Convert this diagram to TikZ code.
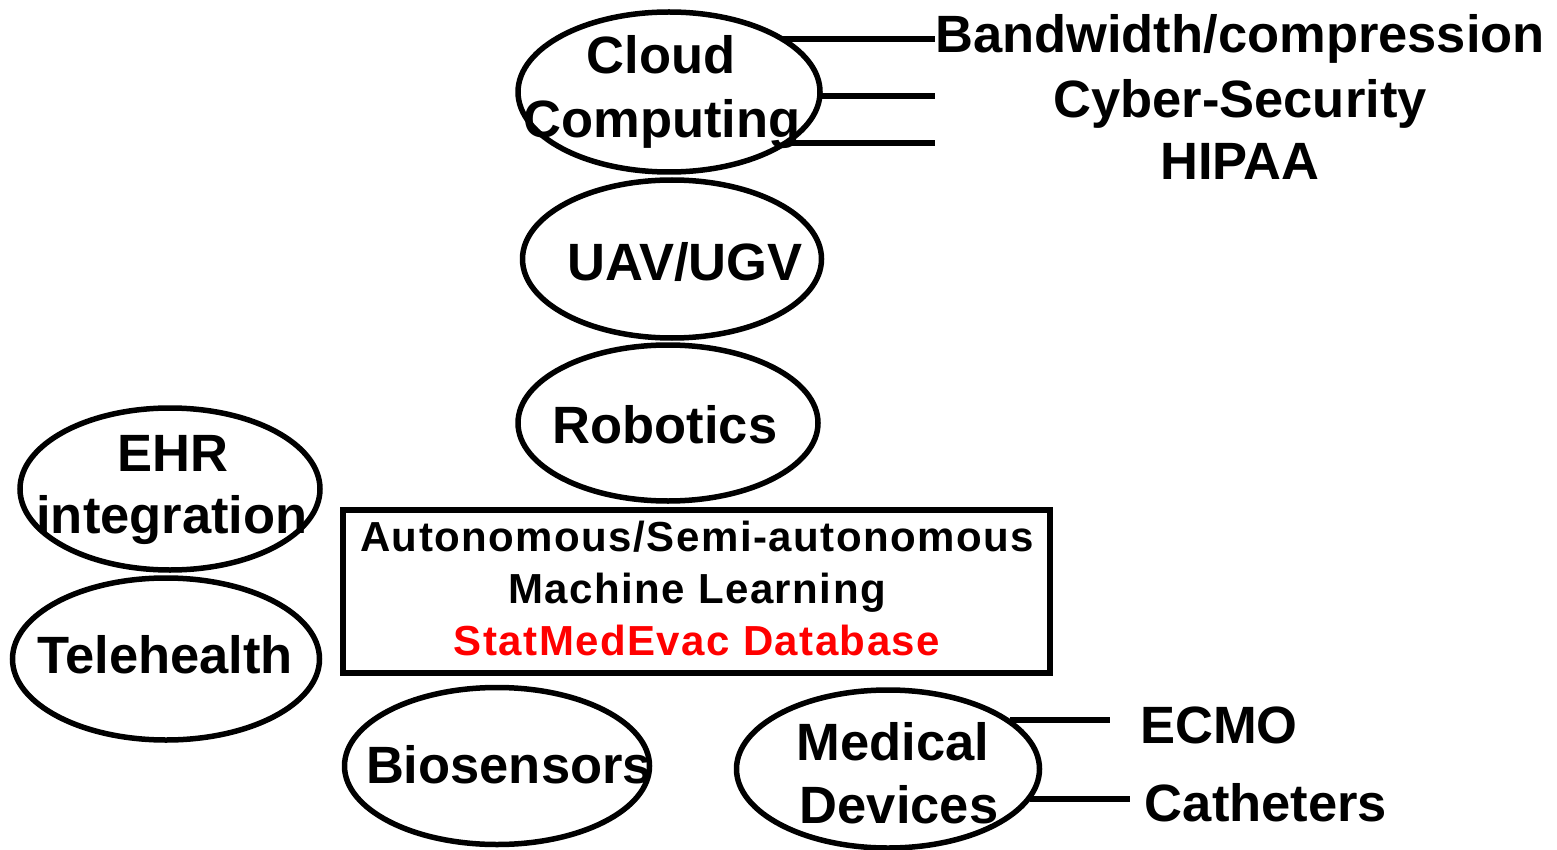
\documentclass[tikz,border=0pt]{standalone}
\usepackage{fontspec}
\setmainfont{Liberation Sans}
\usetikzlibrary{shapes.geometric}
\begin{document}
\begin{tikzpicture}[x=1pt,y=-1pt,
  oval/.style={draw,ellipse,line width=5.5pt,inner sep=0pt,minimum width=#1},
  lbl/.style={anchor=base,inner sep=0pt,font=\fontsize{52.5}{60}\selectfont\bfseries},
  boxlbl/.style={anchor=base,inner sep=0pt,font=\fontsize{42}{50}\selectfont\bfseries\addfontfeature{LetterSpace=3.5}},
  conn/.style={line width=6pt}]
\useasboundingbox (0,0) rectangle (1557,850);
% ellipses
\node[oval=302pt,minimum height=160pt] (cc) at (669,92) {};
\node[oval=299pt,minimum height=158pt] (uav) at (672,259) {};
\node[oval=300pt,minimum height=156pt] (rob) at (668,423) {};
\node[oval=300pt,minimum height=162pt] (ehr) at (170,489) {};
\node[oval=307pt,minimum height=162pt] (tel) at (166,659) {};
\node[oval=305pt,minimum height=157pt] (bio) at (497,766) {};
\node[oval=303pt,minimum height=158pt] (med) at (888,769) {};
% box
\node[draw,line width=5.5pt,minimum width=707pt,minimum height=163pt,inner sep=0pt] (box) at (696.5,591.5) {};
% labels
\node[lbl] (t1) at (661,74) {Cloud};
\node[lbl] (t2) at (662,138) {Computing};
\node[lbl] (t3) at (685,280) {UAV/UGV};
\node[lbl] (t4) at (665,443) {Robotics};
\node[lbl] (t5) at (173,471) {EHR};
\node[lbl] (t6) at (172,533) {integration};
\node[lbl] (t7) at (165,673) {Telehealth};
\node[lbl] (t8) at (509,783) {Biosensors};
\node[lbl] (t9) at (893,760) {Medical};
\node[lbl] (t10) at (899,823) {Devices};
\node[boxlbl] (b1) at (697,551) {Autonomous/Semi-autonomous};
\node[boxlbl] (b2) at (697,603) {Machine Learning};
\node[boxlbl,text=red] (b3) at (697,655) {StatMedEvac Database};
\node[lbl] (r1) at (1240,53) {Bandwidth/compression};
\node[lbl] (r2) at (1240,118) {Cyber-Security};
\node[lbl] (r3) at (1240,180) {HIPAA};
\node[lbl] (r4) at (1219,743) {ECMO};
\node[lbl] (r5) at (1266,821) {Catheters};
% connector ends
\coordinate (c1s) at (782,39);
\coordinate (c1e) at (935,39);
\coordinate (c2s) at (820,96);
\coordinate (c2e) at (935,96);
\coordinate (c3s) at (788,143);
\coordinate (c3e) at (935,143);
\coordinate (m1s) at (1010,720);
\coordinate (m1e) at (1110,720);
\coordinate (m2s) at (1030,799);
\coordinate (m2e) at (1130,799);
\draw[conn] (c1s) -- (c1e);
\draw[conn] (c2s) -- (c2e);
\draw[conn] (c3s) -- (c3e);
\draw[conn] (m1s) -- (m1e);
\draw[conn] (m2s) -- (m2e);
\end{tikzpicture}
\end{document}
